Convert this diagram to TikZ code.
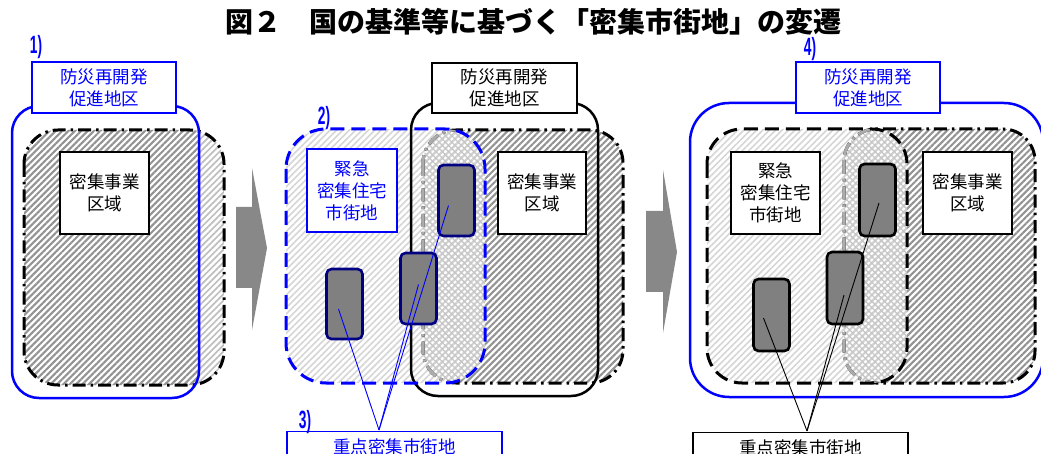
\documentclass[tikz,border=0pt]{standalone}
\usepackage{fontspec}
\newfontfamily\jp{Noto Sans CJK JP}
\newfontfamily\labf{Liberation Sans}
\usetikzlibrary{patterns.meta,calc}
\definecolor{myblue}{RGB}{0,0,255}
\definecolor{navyb}{RGB}{0,0,128}
\definecolor{boxgray}{RGB}{128,128,128}
\definecolor{arrowgray}{RGB}{136,136,136}
\tikzset{
  lab/.style={draw=black, line width=1.3pt, fill=white, align=center, inner sep=0pt,
    font=\jp\fontsize{17.5}{22}\selectfont, text=black},
  bluelab/.style={lab, draw=myblue, text=myblue},
  block/.style={draw=navyb, fill=boxgray, line width=2.6pt, rounded corners=5pt,
    minimum width=36pt, minimum height=68pt, inner sep=0pt},
  blockk/.style={block, draw=black},
  num/.style={text=myblue, inner sep=0pt, font=\labf\bfseries\fontsize{25}{25}\selectfont},
  darkhatch/.style={pattern={Lines[angle=45,distance=4.5pt,line width=2.1pt]}, pattern color=gray!85},
  medhatch/.style={pattern={Lines[angle=45,distance=4.5pt,line width=1.7pt]}, pattern color=gray!50},
  lighthatch/.style={pattern={Lines[angle=45,distance=4.5pt,line width=1.6pt]}, pattern color=gray!32},
  crosshatch/.style={pattern={Lines[angle=-45,distance=4.5pt,line width=1.3pt]}, pattern color=gray!45},
  dashdotline/.style={line width=3pt, dash pattern=on 13pt off 5pt on 2.5pt off 5pt},
  dashline/.style={line width=3pt, dash pattern=on 14pt off 7pt},
  outline/.style={line width=2.5pt},
  leader/.style={line width=0.9pt},
  arrowshape/.style={fill=arrowgray, draw=none}
}
\begin{document}
\begin{tikzpicture}[x=1pt,y=-1pt]
\useasboundingbox (0,0) rectangle (1041,454);
\clip (0,0) rectangle (1041,454);

% title
\node[inner sep=0pt, font=\jp\bfseries\fontsize{28}{28}\selectfont] (title) at (533,22) {図２　国の基準等に基づく「密集市街地」の変遷};

% ================= panel 1 =================
\fill[white, rounded corners=34pt] (24,130) rectangle (224,385);
\fill[medhatch, rounded corners=34pt] (24,130) rectangle (224,385);
\begin{scope}
  \clip[rounded corners=27pt] (12,106) rectangle (199,398);
  \fill[white, rounded corners=34pt] (24,130) rectangle (224,385);
  \fill[darkhatch, rounded corners=34pt] (24,130) rectangle (224,385);
\end{scope}
\draw[dashdotline, rounded corners=34pt] (24,130) rectangle (224,385);
\draw[outline, draw=myblue, rounded corners=27pt] (12,106) rectangle (199,398);
\node[bluelab, minimum width=144pt, minimum height=51pt] (p1lab) at (104,87.5) {防災再開発\\促進地区};
\node[lab, minimum width=89pt, minimum height=82pt] (p1mj) at (104.5,193) {密集事業\\区域};
\node[num] (n1) at (36,47) {\scalebox{0.55}[1]{1)}};

% arrow 1
\fill[arrowgray] (236,207) -- (252,207) -- (252,168) -- (267,248) -- (252,330) -- (252,288) -- (236,288) -- cycle;

% ================= panel 2 =================
\fill[white, rounded corners=40pt] (286,129) rectangle (485,383);
\fill[lighthatch, rounded corners=40pt] (286,129) rectangle (485,383);
\fill[white, rounded corners=33pt] (423,130) rectangle (623,383);
\fill[darkhatch, rounded corners=33pt] (423,130) rectangle (623,383);
\begin{scope}
  \clip[rounded corners=40pt] (286,129) rectangle (485,383);
  \fill[white, opacity=0.55, rounded corners=33pt] (423,130) rectangle (623,383);
  \fill[crosshatch, rounded corners=33pt] (423,130) rectangle (623,383);
\end{scope}
\draw[dashdotline, rounded corners=33pt] (423,130) rectangle (623,383);
\begin{scope}
  \clip[rounded corners=40pt] (286,129) rectangle (485,383);
  \draw[dashdotline, draw=gray!65, rounded corners=33pt] (423,130) rectangle (623,383);
\end{scope}
\draw[outline, draw=black, rounded corners=27pt] (411,103) rectangle (598,396);
\draw[dashline, draw=myblue, rounded corners=40pt] (286,129) rectangle (485,383);

\node[lab, minimum width=145pt, minimum height=50pt] (p2lab) at (504.5,88) {防災再開発\\促進地区};
\node[bluelab, minimum width=90pt, minimum height=83pt] (p2kk) at (352,190.5) {緊急\\密集住宅\\市街地};
\node[lab, minimum width=88pt, minimum height=82pt] (p2mj) at (542,193) {密集事業\\区域};
\node[num] (n2) at (324,118) {\scalebox{0.55}[1]{2)}};

\node[block, minimum height=70pt] (a2) at (344.5,304) {};
\node[block, minimum height=71pt] (b2) at (418.5,288.5) {};
\node[block, minimum height=71pt] (c2) at (456.5,200.5) {};

\node[bluelab, minimum width=215pt, minimum height=30pt, anchor=north] (p2jt) at (394.5,431) {重点密集市街地};
\coordinate (j2) at (379,430);
\draw[leader, myblue] (j2) -- ($(a2.center)+(-6,5)$);
\draw[leader, myblue] (j2) -- ($(b2.center)+(0,-4)$);
\draw[leader, myblue] (j2) -- ($(c2.center)+(-8,5)$);
\node[num] (n3) at (305,422) {\scalebox{0.55}[1]{3)}};

% arrow 2
\fill[arrowgray] (646,211) -- (663,211) -- (663,170) -- (677,252) -- (663,333) -- (663,292) -- (646,292) -- cycle;

% ================= panel 3 =================
\fill[white, rounded corners=35pt] (707,129) rectangle (907,383);
\fill[lighthatch, rounded corners=35pt] (707,129) rectangle (907,383);
\fill[white, rounded corners=32pt] (844,129) rectangle (1035,383);
\fill[darkhatch, rounded corners=32pt] (844,129) rectangle (1035,383);
\begin{scope}
  \clip[rounded corners=35pt] (707,129) rectangle (907,383);
  \fill[white, opacity=0.55, rounded corners=32pt] (844,129) rectangle (1035,383);
  \fill[crosshatch, rounded corners=32pt] (844,129) rectangle (1035,383);
\end{scope}
\draw[dashdotline, rounded corners=32pt] (844,129) rectangle (1035,383);
\begin{scope}
  \clip[rounded corners=35pt] (707,129) rectangle (907,383);
  \draw[dashdotline, draw=gray!65, rounded corners=32pt] (844,129) rectangle (1035,383);
\end{scope}
\draw[dashline, draw=black, rounded corners=35pt] (707,129) rectangle (907,383);
\draw[outline, draw=myblue, rounded corners=39pt] (690,103) rectangle (1043,397);

\node[bluelab, minimum width=144pt, minimum height=51pt] (p3lab) at (868,87.5) {防災再開発\\促進地区};
\node[lab, minimum width=89pt, minimum height=82pt] (p3kk) at (775.5,193) {緊急\\密集住宅\\市街地};
\node[lab, minimum width=89pt, minimum height=82pt] (p3mj) at (967.5,193) {密集事業\\区域};
\node[num] (n4) at (810,49) {\scalebox{0.55}[1]{4)}};

\node[blockk, minimum height=72pt] (a3) at (771.5,315) {};
\node[blockk, minimum height=72pt] (b3) at (845,288) {};
\node[blockk, minimum height=72pt] (c3) at (877.5,200) {};

\node[lab, minimum width=215pt, minimum height=30pt, anchor=north] (p3jt) at (800.5,432) {重点密集市街地};
\coordinate (j3) at (807,431);
\draw[leader, black] (j3) -- ($(a3.center)+(-8,3)$);
\draw[leader, black] (j3) -- ($(b3.center)+(-1,7)$);
\draw[leader, black] (j3) -- ($(c3.center)+(1.5,3)$);
\end{tikzpicture}
\end{document}
